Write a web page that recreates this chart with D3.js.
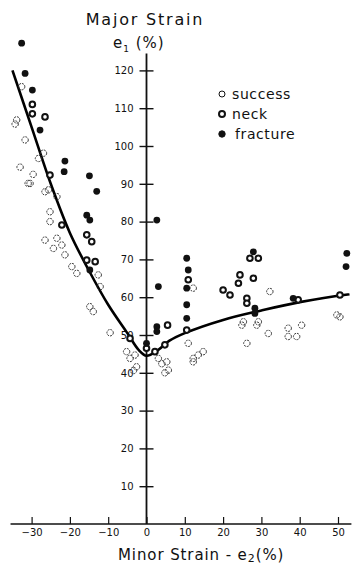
<!DOCTYPE html>
<html>
<head>
<meta charset="utf-8">
<script src="https://cdn.jsdelivr.net/npm/d3@7"></script>
<style>
  html, body { margin: 0; padding: 0; background: #fff; }
  svg { display: block; font-family: "DejaVu Sans", sans-serif; }
</style>
</head>
<body>
<div id="chart"></div>
<script>
// forming limit curve
const curveMinor = [-35, -30, -25, -20, -15, -10, -5, -2, 0, 3, 6, 10, 20, 30, 40, 53];
const curveMajor = [120, 105, 90, 77, 67, 58, 50.5, 46, 44.5, 46, 48.5, 50.5, 54, 56.5, 58.7, 60.8];

const successPts = [
  [-32.6, 115.7], [-33.9, 106.9], [-34.3, 105.8], [-31.7, 101.6], [-26.9, 98.1], [-28.2, 96.7],
  [-33.0, 94.4], [-29.6, 92.5], [-30.9, 90.1], [-25.6, 88.4], [-26.5, 87.9], [-23.4, 86.6],
  [-25.2, 82.6], [-25.2, 80.0], [-23.4, 75.6], [-22.1, 73.8], [-24.3, 72.9], [-26.5, 75.1],
  [-21.3, 71.2], [-19.5, 68.1], [-18.2, 66.3], [-12.6, 65.9], [-12.1, 62.8], [-14.8, 57.5],
  [-13.9, 56.2], [-9.5, 50.6], [-5.2, 45.6], [-4.3, 43.8], [-2.6, 41.6], [-3.4, 40.6],
  [-3.0, 44.7], [3.1, 43.8], [5.3, 42.9], [4.0, 42.4], [5.7, 40.7], [4.8, 40.0],
  [10.9, 47.8], [12.2, 43.8], [14.8, 45.6], [13.5, 44.7], [12.2, 42.9], [12.2, 62.4],
  [24.9, 52.6], [28.8, 52.6], [25.3, 53.5], [29.2, 53.5], [31.8, 50.4], [32.2, 61.5],
  [26.2, 47.8], [37.0, 51.8], [37.0, 49.6], [40.5, 52.6], [39.2, 49.6], [49.7, 55.3],
  [50.5, 54.8], [-30.4, 90.1]
];

const neckPts = [
  [-29.8, 111.0], [-29.8, 108.5], [-26.5, 107.7], [-25.2, 92.3], [-22.1, 79.1], [-15.6, 76.5],
  [-14.3, 74.7], [-15.6, 69.8], [-13.4, 69.4], [-4.3, 49.1], [0, 46.5], [2.2, 45.6],
  [4.8, 47.4], [5.5, 52.6], [10.5, 51.3], [10.9, 64.6], [27.0, 70.3], [29.2, 70.3],
  [24.4, 65.9], [24.0, 63.7], [27.9, 65.0], [20.0, 61.9], [21.8, 60.6], [26.2, 59.7],
  [26.2, 58.4], [39.6, 59.3], [50.5, 60.6]
];

const fracturePts = [
  [-32.6, 127.2], [-31.7, 119.2], [-29.8, 114.8], [-27.8, 104.2], [-21.3, 96.0], [-21.5, 93.2],
  [-14.9, 92.1], [-13.0, 88.0], [-15.6, 81.7], [-14.8, 80.4], [-14.8, 67.2], [3.1, 62.8],
  [2.7, 80.4], [2.7, 52.2], [2.7, 50.9], [0, 47.8], [10.5, 70.3], [10.9, 67.2],
  [10.5, 62.4], [10.5, 58.0], [10.5, 54.4], [27.9, 72.0], [28.3, 57.1], [28.3, 55.7],
  [38.3, 59.7], [52.3, 71.6], [52.1, 68.1]
];

const xTicks = [-30, -20, -10, 0, 10, 20, 30, 40, 50];
const yTicks = [10, 20, 30, 40, 50, 60, 70, 80, 90, 100, 110, 120];
const legendLabels = ['success', 'neck', 'fracture'];

const width = 352, height = 567;

const svg = d3.select('#chart')
  .append('svg')
  .attr('width', width)
  .attr('height', height);

const x = d3.scaleLinear().domain([-30, 50]).range([31.6, 338]);
const y = d3.scaleLinear().domain([0, 120]).range([524, 70.4]);

// axis lines
svg.append('line')
  .attr('x1', x(-35.5)).attr('x2', x(53.5))
  .attr('y1', y(0)).attr('y2', y(0))
  .attr('stroke', '#111').attr('stroke-width', 1.6);

svg.append('line')
  .attr('x1', x(0)).attr('x2', x(0))
  .attr('y1', y(0)).attr('y2', y(124.5))
  .attr('stroke', '#111').attr('stroke-width', 1.8);

// y axis: cross ticks
const yAxis = svg.append('g')
  .attr('transform', `translate(${x(0)},0)`)
  .call(d3.axisLeft(y).tickValues(yTicks).tickSize(7).tickPadding(6))
  .attr('font-family', null)
  .attr('font-size', null);
yAxis.select('.domain').remove();
yAxis.selectAll('.tick line')
  .attr('x1', -7).attr('x2', 7)
  .attr('stroke', '#111').attr('stroke-width', 1.4);
yAxis.selectAll('.tick text')
  .attr('fill', '#111')
  .style('font-size', '10px');

// x axis: ticks pointing up
const xAxis = svg.append('g')
  .attr('transform', `translate(0,${y(0)})`)
  .call(d3.axisBottom(x).tickValues(xTicks).tickSize(-7).tickPadding(5))
  .attr('font-family', null)
  .attr('font-size', null);
xAxis.select('.domain').remove();
xAxis.selectAll('.tick line')
  .attr('stroke', '#111').attr('stroke-width', 1.2);
xAxis.selectAll('.tick text')
  .attr('fill', '#111')
  .style('font-size', '10px');

// forming limit curve
const curveData = curveMinor.map((d, i) => [d, curveMajor[i]]);
svg.append('path')
  .datum(curveData)
  .attr('fill', 'none')
  .attr('stroke', '#000')
  .attr('stroke-width', 2.6)
  .attr('d', d3.line().x(d => x(d[0])).y(d => y(d[1])).curve(d3.curveCatmullRom.alpha(0.5)));

// points
svg.append('g').selectAll('circle')
  .data(successPts)
  .join('circle')
  .attr('cx', d => x(d[0])).attr('cy', d => y(d[1]))
  .attr('r', 3.2)
  .attr('fill', 'none')
  .attr('stroke', '#333')
  .attr('stroke-width', 1)
  .attr('stroke-dasharray', '2,1');

svg.append('g').selectAll('circle')
  .data(neckPts)
  .join('circle')
  .attr('cx', d => x(d[0])).attr('cy', d => y(d[1]))
  .attr('r', 2.8)
  .attr('fill', '#fff')
  .attr('stroke', '#111')
  .attr('stroke-width', 2);

svg.append('g').selectAll('circle')
  .data(fracturePts)
  .join('circle')
  .attr('cx', d => x(d[0])).attr('cy', d => y(d[1]))
  .attr('r', 3.4)
  .attr('fill', '#111');

// titles
svg.append('text')
  .attr('x', 145).attr('y', 25)
  .attr('text-anchor', 'middle')
  .style('font-size', '16px')
  .style('letter-spacing', '1.8px')
  .attr('fill', '#111')
  .text('Major Strain');

const e1 = svg.append('text')
  .attr('x', 113).attr('y', 48)
  .style('font-size', '15px')
  .style('letter-spacing', '1px')
  .attr('fill', '#111');
e1.append('tspan').text('e');
e1.append('tspan').attr('dy', 4).style('font-size', '9px').text('1');
e1.append('tspan').attr('dy', -4).text('  (%)');

const xl = svg.append('text')
  .attr('x', 118).attr('y', 560)
  .style('font-size', '15px')
  .style('letter-spacing', '0.9px')
  .attr('fill', '#111');
xl.append('tspan').text('Minor Strain - e');
xl.append('tspan').attr('dy', 2).style('font-size', '11px').text('2');
xl.append('tspan').attr('dy', -2).text('(%)');

// legend
const legend = svg.append('g').attr('transform', 'translate(222,94)');
const rows = legend.selectAll('g')
  .data(legendLabels)
  .join('g')
  .attr('transform', (d, i) => `translate(0,${i * 20})`);

rows.append('circle')
  .attr('r', (d, i) => i === 2 ? 3.2 : 3)
  .attr('fill', (d, i) => i === 0 ? 'none' : (i === 1 ? '#fff' : '#111'))
  .attr('stroke', '#111')
  .attr('stroke-width', (d, i) => i === 1 ? 2 : 1);

rows.append('text')
  .attr('x', (d, i) => i === 2 ? 13 : 10)
  .attr('dy', '0.35em')
  .style('font-size', '14px')
  .style('letter-spacing', '0.6px')
  .attr('fill', '#111')
  .text(d => d);
</script>
</body>
</html>
